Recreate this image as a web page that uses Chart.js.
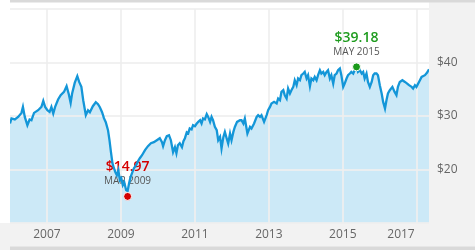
<!DOCTYPE html>
<html>
<head>
<meta charset="utf-8">
<script src="https://cdn.jsdelivr.net/npm/chart.js@4/dist/chart.umd.min.js"></script>
<style>
  html, body { margin: 0; padding: 0; background: #fff; }
  #wrap { width: 475px; height: 250px; }
</style>
</head>
<body>
<div id="wrap"><canvas id="priceChart" width="475" height="250"></canvas></div>
<script>
// price history, [decimal year, price]
var p2006 = [[2006.00,28.60],[2006.04,29.53],[2006.13,29.35],[2006.22,29.83],[2006.31,30.58],[2006.35,31.70],[2006.40,29.83],[2006.47,28.28],[2006.53,29.35],[2006.58,29.21],[2006.65,30.58],[2006.76,31.08],[2006.85,31.70],[2006.90,32.82],[2006.95,31.70]];
var p2007 = [[2007.01,31.08],[2007.07,30.77],[2007.12,31.70],[2007.17,30.47],[2007.22,31.70],[2007.30,33.08],[2007.37,33.89],[2007.46,34.50],[2007.53,35.57],[2007.59,34.07],[2007.64,32.45],[2007.68,34.21],[2007.75,36.19],[2007.82,37.44],[2007.87,36.37],[2007.93,35.44],[2007.98,32.95]];
var p2008 = [[2008.05,30.15],[2008.11,31.08],[2008.16,30.71],[2008.24,31.83],[2008.32,32.58],[2008.38,32.21],[2008.43,31.64],[2008.49,30.71],[2008.54,29.59],[2008.59,28.84],[2008.65,27.35],[2008.69,25.48],[2008.73,23.23],[2008.77,21.18],[2008.81,20.24],[2008.85,19.49],[2008.89,18.93],[2008.93,19.87],[2008.97,18.00]];
var p2009 = [[2009.01,18.37],[2009.05,17.07],[2009.09,17.62],[2009.14,16.14],[2009.18,15.95],[2009.22,17.44],[2009.26,18.56],[2009.30,19.31],[2009.35,20.24],[2009.41,20.80],[2009.46,21.55],[2009.51,22.11],[2009.57,22.67],[2009.65,23.61],[2009.73,24.36],[2009.81,24.92],[2009.89,25.10],[2009.97,25.48]];
var p2010 = [[2010.05,25.85],[2010.11,25.10],[2010.14,24.36],[2010.19,25.48],[2010.24,26.22],[2010.30,26.41],[2010.35,25.48],[2010.41,23.23],[2010.46,24.17],[2010.50,23.05],[2010.54,24.54],[2010.59,24.92],[2010.65,24.17],[2010.69,25.29],[2010.73,25.85],[2010.78,26.97],[2010.82,26.79],[2010.86,27.66],[2010.91,27.48],[2010.95,28.28]];
var p2011 = [[2011.00,28.09],[2011.05,28.60],[2011.09,28.90],[2011.14,29.21],[2011.18,28.60],[2011.22,29.53],[2011.27,29.35],[2011.32,30.34],[2011.36,29.83],[2011.41,28.90],[2011.45,29.83],[2011.49,29.21],[2011.54,27.96],[2011.59,27.35],[2011.63,25.48],[2011.68,26.09],[2011.72,23.93],[2011.77,26.09],[2011.81,27.03],[2011.86,25.79],[2011.90,24.86],[2011.95,26.73],[2011.99,25.48]];
var p2012 = [[2012.04,27.03],[2012.08,27.96],[2012.14,28.90],[2012.22,29.21],[2012.26,29.21],[2012.31,28.60],[2012.35,29.53],[2012.42,26.73],[2012.49,27.96],[2012.53,27.66],[2012.60,28.60],[2012.67,29.83],[2012.71,30.15],[2012.76,29.83],[2012.80,30.15],[2012.87,28.90],[2012.94,30.15],[2012.98,31.08]];
var p2013 = [[2013.03,31.70],[2013.07,32.34],[2013.14,32.64],[2013.21,32.34],[2013.25,33.27],[2013.30,32.95],[2013.34,34.50],[2013.39,34.82],[2013.43,33.89],[2013.48,33.27],[2013.52,35.14],[2013.57,34.21],[2013.61,34.82],[2013.66,35.44],[2013.70,36.69],[2013.75,35.76],[2013.79,37.01],[2013.84,36.69],[2013.88,37.63],[2013.93,37.94],[2013.97,38.24]];
var p2014 = [[2014.02,37.01],[2014.06,37.63],[2014.11,35.57],[2014.15,37.01],[2014.20,36.69],[2014.24,37.31],[2014.29,36.69],[2014.33,37.63],[2014.38,38.56],[2014.42,37.94],[2014.47,38.24],[2014.51,37.63],[2014.56,38.24],[2014.60,38.56],[2014.65,37.01],[2014.69,37.63],[2014.74,36.07],[2014.78,37.63],[2014.83,37.94],[2014.87,38.56],[2014.92,38.88],[2014.96,37.63]];
var p2015 = [[2015.01,35.44],[2015.05,36.07],[2015.10,37.01],[2015.14,37.63],[2015.19,37.94],[2015.23,38.24],[2015.28,37.94],[2015.32,38.56],[2015.37,39.18],[2015.41,38.24],[2015.46,38.56],[2015.51,37.94],[2015.55,38.24],[2015.59,37.01],[2015.64,37.94],[2015.68,36.37],[2015.73,35.44],[2015.78,36.37],[2015.82,37.63],[2015.86,37.94],[2015.91,37.94],[2015.95,37.63]];
var p2016 = [[2016.00,35.76],[2016.05,34.21],[2016.09,32.64],[2016.14,31.40],[2016.18,32.95],[2016.22,34.21],[2016.27,34.82],[2016.34,35.44],[2016.40,34.50],[2016.45,33.89],[2016.49,35.44],[2016.54,36.37],[2016.61,36.69],[2016.68,36.37],[2016.74,36.07],[2016.79,35.76],[2016.86,35.44],[2016.90,35.14],[2016.95,35.76],[2016.99,35.44]];
var p2017 = [[2017.06,36.37],[2017.13,37.31],[2017.22,37.63],[2017.28,38.13],[2017.33,38.75]];

var yearTicks = [2007, 2009, 2011, 2013, 2015, 2017];
var priceTicks = [10, 20, 30, 40, 50];
var priceLabels = [20, 30, 40];

var highPoint = { x: 2015.37, y: 39.18, price: '$39.18', date: 'MAY 2015' };
var lowPoint = { x: 2009.18, y: 14.97, price: '$14.97', date: 'MAR 2009' };

var allPrices = [].concat(p2006, p2007, p2008, p2009, p2010, p2011, p2012, p2013, p2014, p2015, p2016, p2017)
  .map(function (row) { return { x: row[0], y: row[1] }; });

var FONT = '"Open Sans", "Noto Sans", sans-serif';
var GRID = 'rgba(238,238,238,0.85)';

// gray frame pieces + year labels + high/low captions
var decor = {
  id: 'decor',
  beforeDraw: function (chart) {
    var ctx = chart.ctx, a = chart.chartArea, W = chart.width, H = chart.height;
    ctx.save();
    ctx.fillStyle = '#f2f2f2';
    ctx.fillRect(a.right, 0, W - a.right, a.bottom);
    ctx.fillRect(0, a.bottom, W, H - a.bottom);
    ctx.fillStyle = '#d9d9d9';
    ctx.fillRect(a.left, 0, W - a.left, 2.5);
    ctx.fillRect(a.left, H - 3.5, W - a.left, 3.5);
    ctx.restore();
  },
  beforeDatasetsDraw: function (chart) {
    var ctx = chart.ctx, xs = chart.scales.x, ys = chart.scales.y;
    ctx.save();
    ctx.textAlign = 'center';
    ctx.textBaseline = 'middle';
    [[highPoint, '#1e9b1e'], [lowPoint, '#d40000']].forEach(function (pair) {
      var p = pair[0];
      var px = xs.getPixelForValue(p.x), py = ys.getPixelForValue(p.y);
      ctx.fillStyle = pair[1];
      ctx.font = '600 14px ' + FONT;
      ctx.fillText(p.price, px, py - 29);
      ctx.fillStyle = '#555';
      ctx.font = '10px ' + FONT;
      ctx.fillText(p.date, px, py - 15);
    });
    ctx.restore();
  },
  afterDraw: function (chart) {
    var ctx = chart.ctx, a = chart.chartArea, xs = chart.scales.x;
    ctx.save();
    ctx.font = '12px ' + FONT;
    ctx.fillStyle = '#666';
    ctx.textAlign = 'center';
    ctx.textBaseline = 'middle';
    yearTicks.forEach(function (yr) {
      var px = Math.min(xs.getPixelForValue(yr), a.right - 28);
      ctx.fillText(String(yr), px, a.bottom + 11.5);
    });
    ctx.restore();
  }
};

new Chart(document.getElementById('priceChart'), {
  type: 'line',
  data: {
    datasets: [
      {
        label: 'high',
        data: [highPoint],
        showLine: false,
        pointRadius: 4,
        pointBackgroundColor: '#1a9a1a',
        pointBorderColor: '#fff',
        pointBorderWidth: 1
      },
      {
        label: 'low',
        data: [lowPoint],
        showLine: false,
        pointRadius: 4,
        pointBackgroundColor: '#d40000',
        pointBorderColor: '#fff',
        pointBorderWidth: 1
      },
      {
        label: 'price',
        data: allPrices,
        borderColor: '#1396d8',
        borderWidth: 2.3,
        backgroundColor: '#cce9f7',
        fill: 'start',
        pointRadius: 0,
        tension: 0
      }
    ]
  },
  options: {
    responsive: false,
    devicePixelRatio: 1,
    animation: false,
    layout: { padding: { left: 10, top: 9, right: 0, bottom: 0 } },
    plugins: {
      legend: { display: false },
      tooltip: { enabled: false },
      filler: { drawTime: 'beforeDraw' }
    },
    scales: {
      x: {
        type: 'linear',
        min: 2006,
        max: 2017.33,
        afterBuildTicks: function (scale) {
          scale.ticks = yearTicks.map(function (v) { return { value: v }; });
        },
        afterFit: function (scale) {
          scale.height = 27;
          scale.paddingLeft = 0;
          scale.paddingRight = 0;
        },
        ticks: { display: false },
        grid: { color: GRID, lineWidth: 2, drawTicks: false },
        border: { display: false }
      },
      y: {
        position: 'right',
        min: 10,
        max: 50,
        afterBuildTicks: function (scale) {
          scale.ticks = priceTicks.map(function (v) { return { value: v }; });
        },
        afterFit: function (scale) {
          scale.width = 46;
          scale.paddingTop = 0;
          scale.paddingBottom = 0;
        },
        ticks: {
          padding: 8,
          color: '#666',
          font: { family: FONT, size: 12 },
          callback: function (v) { return priceLabels.indexOf(v) >= 0 ? '$' + v : ''; }
        },
        grid: { color: GRID, lineWidth: 2, drawTicks: false },
        border: { display: false }
      }
    }
  },
  plugins: [decor]
});
</script>
</body>
</html>
